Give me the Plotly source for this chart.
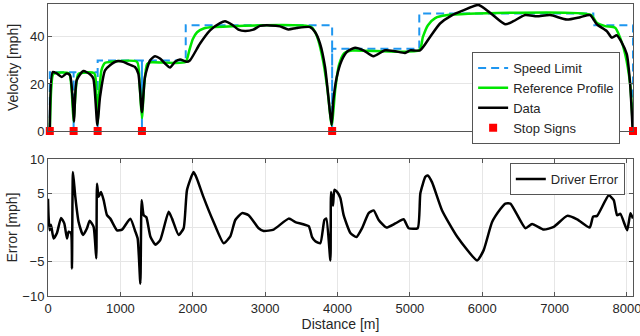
import plotly.graph_objects as go

# speed limit (steps, drops to zero at each stop sign)
limit_x = [25, 25, 354, 354, 354, 686, 686, 686, 1298, 1298, 1298, 1903, 1903,
           3926, 3926, 3926, 5130, 5130, 7535, 7535, 8083, 8083]
limit_v = [0, 25, 25, 0, 25, 25, 0, 30, 30, 0, 30, 30, 45,
           45, 0, 35, 35, 50, 50, 45, 45, 0]

# reference profile
ref_x = [25, 45, 75, 290, 325, 354, 385, 420, 640, 668, 686, 705, 740, 790, 860,
         1230, 1265, 1298, 1330, 1370, 1420, 1900, 1950, 2000, 2060, 2150, 2300,
         3640, 3720, 3800, 3860, 3920, 3970, 4020, 4090, 4200, 5130, 5180, 5250,
         5350, 5500, 7500, 7583, 7698, 7836, 7905, 7975, 8043, 8083]
ref_v = [0, 18, 24.3, 24.5, 18, 4, 18, 24.3, 24.5, 15, 3, 15, 26, 29, 29.4,
         29.4, 20, 5.5, 20, 28.5, 29.2, 29.3, 34, 39, 42, 43.6, 44.2,
         44.2, 40, 30, 18, 2.5, 18, 28, 33, 34.2, 34.3, 40, 45,
         48, 49.2, 49.4, 46, 44.6, 43.9, 39.7, 32.7, 20, 0]

# measured data
data_x = [25, 65, 120, 190, 258, 304, 350, 360, 397, 488, 580, 626, 682, 719, 788,
          857, 949, 1041, 1110, 1202, 1248, 1298, 1340, 1410, 1479, 1548, 1617,
          1686, 1755, 1824, 1916, 1963, 2101, 2239, 2377, 2446, 2539, 2631, 2723,
          2838, 2930, 3068, 3206, 3321, 3436, 3621, 3690, 3759, 3828, 3874, 3918,
          3943, 3990, 4059, 4128, 4243, 4358, 4496, 4658, 4796, 4934, 5003, 5141,
          5279, 5417, 5579, 5740, 5947, 6108, 6316, 6431, 6593, 6754, 6938, 7169,
          7353, 7491, 7583, 7721, 7790, 7859, 7928, 7997, 8043, 8078]
data_v = [0.4, 25.1, 24.5, 23, 24.5, 23.7, 8.9, 4, 21.6, 25.5, 24.1, 22.3, 2.5, 14.5, 25.8,
          28, 29.7, 29.4, 28.4, 27.2, 24.4, 8, 23, 30, 31.8, 30.8, 28.7,
          27, 29.4, 30.4, 29.4, 30.1, 37.2, 42.8, 45.9, 46.7, 45.3, 43.1, 42.5,
          43.1, 44.7, 44.9, 44.5, 43.2, 43.8, 44.2, 42.1, 37.2, 27.2, 14.5, 2.5,
          13.1, 23, 30.1, 33.6, 35.4, 34.3, 31.8, 34.3, 33.9, 33.2, 34.3, 34.3,
          40, 45.7, 49.2, 51.3, 53.6, 50.3, 45.4, 46.7, 49.3, 48.8, 49.3, 47.4,
          48.4, 49.3, 45.4, 42.5, 39.7, 40.7, 37.6, 32.7, 20.1, 0.4]

stop_x = [25, 354, 686, 1298, 3926, 8083]
stop_v = [0, 0, 0, 0, 0, 0]

# driver error
err_x = [0, 8, 22, 41, 77, 124, 180, 225, 262, 285, 318, 331, 345, 377, 423, 484,
         539, 575, 630, 667, 677, 700, 732, 769, 815, 861, 953, 1023, 1137, 1207,
         1239, 1276, 1294, 1322, 1359, 1414, 1483, 1552, 1667, 1714, 1805, 1874,
         1921, 2012, 2059, 2150, 2288, 2427, 2519, 2588, 2681, 2772, 2911, 2980,
         3118, 3325, 3418, 3602, 3649, 3694, 3763, 3819, 3846, 3902, 3911, 3938,
         3957, 3994, 4040, 4085, 4178, 4261, 4339, 4431, 4500, 4569, 4675, 4800,
         4914, 4983, 5108, 5145, 5214, 5246, 5307, 5445, 5652, 5929, 6020, 6136,
         6251, 6320, 6389, 6597, 6689, 6850, 6988, 7173, 7311, 7485, 7532, 7587,
         7748, 7817, 7863, 7909, 8002, 8048, 8083]
err_v = [4.2, 1.6, -0.4, 0.4, -1.6, -0.8, 1.4, 0.6, -1.6, -0.6, -0.8, -6, 8.1, 4.5, 0.8, -1.1,
         -0.1, 1, 0.1, -4.5, 6.4, 4.5, 5.2, 4, 1.8, 1.3, -0.4, -0.3, 1.3, -0.6,
         -1.6, -8.2, 4, 1.8, 1.5, -1.3, -2.5, -1.8, 2.3, 1.3, -1.1, -0.1,
         5.5, 8.1, 7.1, 4.4, 0.8, -2.3, -1.3, 1.1, 2.1, 1.8, -0.1, -0.5,
         -0.3, 1.3, 0.8, 0.2, -1.4, -2, -2.3, 1.1, 1.3, -4.8, 5.2, 3.2,
         5.5, 5.2, 4.3, 1.8, -0.8, -1.4, -0.1, 2.1, 2.5, 1.1, 0, 0.6,
         1.2, -0.1, -0.1, 5, 7.4, 7.6, 6.6, 2.5, -1.3, -4.8, -3.3, 0.8,
         2.7, 3.5, 3.5, -0.1, 0.5, -0.3, 0.1, 1.7, 1.2, 0, 1.6, 1.7,
         4.7, 4, 1.8, 2, -0.4, 2.1, 1.3]

axis_col = "#555555"
grid_col = "#e6e6e6"
txt_col = "#262626"

fig = go.Figure()
fig.add_trace(go.Scatter(x=limit_x, y=limit_v, mode="lines", name="Speed Limit",
                         line=dict(color="#1e96f0", width=2, dash="8px,5px"),
                         xaxis="x", yaxis="y", legend="legend"))
fig.add_trace(go.Scatter(x=ref_x, y=ref_v, mode="lines", name="Reference Profile",
                         line=dict(color="#00e600", width=2.5, shape="spline", smoothing=0.6),
                         xaxis="x", yaxis="y", legend="legend"))
fig.add_trace(go.Scatter(x=data_x, y=data_v, mode="lines", name="Data",
                         line=dict(color="black", width=2.5, shape="spline", smoothing=0.6),
                         xaxis="x", yaxis="y", legend="legend"))
fig.add_trace(go.Scatter(x=stop_x, y=stop_v, mode="markers", name="Stop Signs",
                         marker=dict(color="#ff0000", symbol="square", size=8),
                         cliponaxis=False, xaxis="x", yaxis="y", legend="legend"))
fig.add_trace(go.Scatter(x=err_x, y=err_v, mode="lines", name="Driver Error",
                         line=dict(color="black", width=2.5, shape="spline", smoothing=0.5),
                         xaxis="x2", yaxis="y2", legend="legend2"))

common = dict(showline=True, linecolor=axis_col, linewidth=1, mirror="ticks",
              ticks="inside", ticklen=4, tickcolor=axis_col, zeroline=False,
              automargin=False, tickfont=dict(size=13, color=txt_col))

fig.update_layout(
    width=640, height=336,
    margin=dict(l=48, r=7, t=4, b=40),
    paper_bgcolor="white", plot_bgcolor="white",
    font=dict(family="Liberation Sans, Arial, sans-serif", color=txt_col),
    xaxis=dict(domain=[0, 1], anchor="y", range=[0, 8083], showticklabels=False,
               showgrid=False, **{**common, "ticks": ""}),
    yaxis=dict(domain=[0.565, 1], anchor="x", range=[0, 54], tickvals=[0, 20, 40],
               showgrid=True, gridcolor=grid_col,
               title=dict(text="Velocity [mph]", font=dict(size=14, color=txt_col), standoff=8),
               **common),
    xaxis2=dict(domain=[0, 1], anchor="y2", range=[0, 8083], dtick=1000, tick0=0,
                showgrid=True, gridcolor=grid_col, ticklabeloverflow="allow",
                title=dict(text="Distance [m]", font=dict(size=14, color=txt_col), standoff=2),
                **common),
    yaxis2=dict(domain=[0, 0.469], anchor="x2", range=[-10, 10], dtick=5,
                showgrid=True, gridcolor=grid_col,
                title=dict(text="Error [mph]", font=dict(size=14, color=txt_col), standoff=1),
                **common),
    legend=dict(x=0.725, y=0.678, xanchor="left", yanchor="middle",
                bgcolor="white", bordercolor=axis_col, borderwidth=1,
                font=dict(size=13, color=txt_col), tracegroupgap=0,
                itemwidth=30),
    legend2=dict(x=0.986, y=0.455, xanchor="right", yanchor="top",
                 bgcolor="white", bordercolor=axis_col, borderwidth=1,
                 font=dict(size=13, color=txt_col), itemwidth=30),
    showlegend=True,
)

fig.write_html("out.html", config={"displayModeBar": False},
               post_script="document.body.style.margin='0';")
